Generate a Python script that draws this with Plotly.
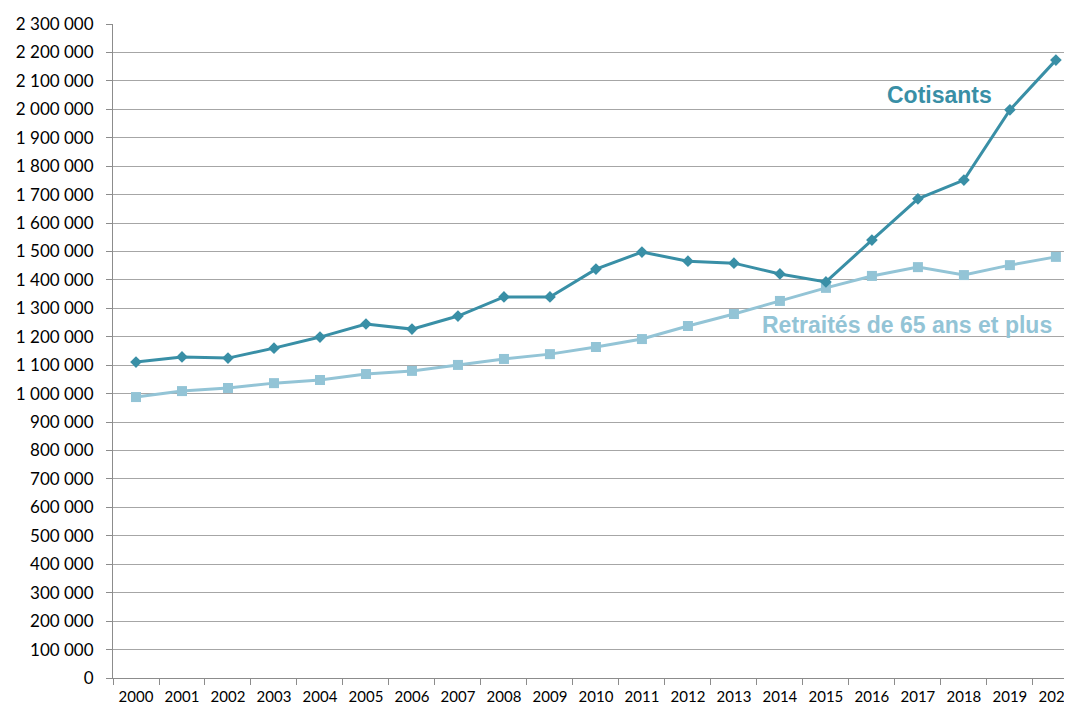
import plotly.graph_objects as go

# Données
annees = [str(a) for a in range(2000, 2021)]
cotisants = [1111000, 1129000, 1125000, 1160000, 1199000, 1245000, 1227000,
             1273000, 1340000, 1340000, 1438000, 1498000, 1466000, 1459000,
             1421000, 1393000, 1540000, 1685000, 1751000, 1998000, 2173000]
retraites = [988000, 1009000, 1020000, 1037000, 1048000, 1069000, 1080000,
             1101000, 1122000, 1139000, 1164000, 1192000, 1238000, 1280000,
             1326000, 1372000, 1414000, 1445000, 1417000, 1452000, 1481000]

c_cot = 'rgb(57,143,166)'
c_ret = 'rgb(147,196,214)'

fig = go.Figure()
fig.add_trace(go.Scatter(x=annees, y=retraites, mode='lines+markers',
                         line=dict(color=c_ret, width=3),
                         marker=dict(symbol='square', size=10, color=c_ret),
                         name='Retraités de 65 ans et plus'))
fig.add_trace(go.Scatter(x=annees, y=cotisants, mode='lines+markers',
                         line=dict(color=c_cot, width=3),
                         marker=dict(symbol='diamond', size=9, color=c_cot),
                         name='Cotisants'))

# Etiquettes des séries
fig.add_annotation(x=17.48, y=2050000, text='<b>Cotisants</b>', showarrow=False,
                   font=dict(family='Liberation Sans', size=23, color=c_cot))
fig.add_annotation(x=16.76, y=1241000, text='<b>Retraités de 65 ans et plus</b>',
                   showarrow=False,
                   font=dict(family='Liberation Sans', size=23, color=c_ret))

# la page ajoute 8 px de marge autour de la figure
fig.update_layout(
    width=1064, height=698,
    margin=dict(l=105, r=0, t=16, b=28),
    plot_bgcolor='white', paper_bgcolor='white',
    showlegend=False,
    separators=', ',
    font=dict(family='Lato', size=17, color='black'),
)
fig.update_xaxes(type='category', range=[-0.5, 20.35], showgrid=False,
                 showline=True, linecolor='#8c8c8c', linewidth=1,
                 ticks='outside', tickson='boundaries', ticklen=6,
                 tickcolor='#8c8c8c', tickfont=dict(size=15),
                 ticklabelstandoff=5, automargin=False)
fig.update_yaxes(range=[0, 2300000], dtick=100000, tickformat=',d',
                 showgrid=True, gridcolor='#a6a6a6', gridwidth=1,
                 showline=True, linecolor='#8c8c8c', linewidth=1,
                 ticks='outside', ticklen=6, tickcolor='#8c8c8c',
                 zeroline=False, tickfont=dict(size=17),
                 ticklabelstandoff=9, automargin=False)

fig.write_html("out.html")
